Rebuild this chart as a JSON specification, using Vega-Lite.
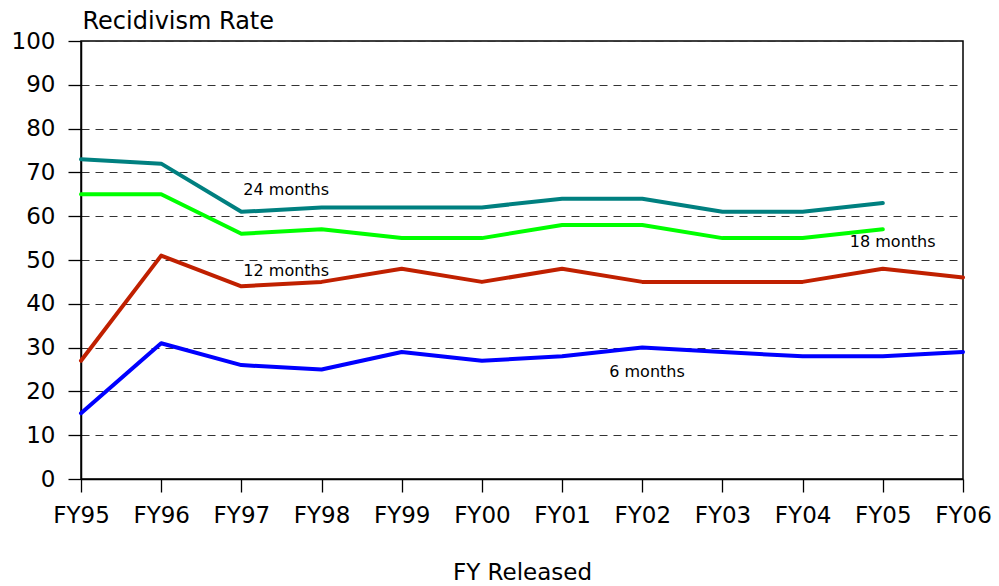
{
  "$schema": "https://vega.github.io/schema/vega-lite/v6.json",
  "autosize": "none",
  "width": 882,
  "height": 438,
  "padding": {"left": 81, "top": 41, "right": 36, "bottom": 107},
  "background": "white",
  "config": {
    "font": "DejaVu Sans",
    "view": {"stroke": "black", "strokeWidth": 1.5}
  },
  "datasets": {
    "rates": [
      {"fy": "FY95", "series": "24 months", "rate": 73},
      {"fy": "FY96", "series": "24 months", "rate": 72},
      {"fy": "FY97", "series": "24 months", "rate": 61},
      {"fy": "FY98", "series": "24 months", "rate": 62},
      {"fy": "FY99", "series": "24 months", "rate": 62},
      {"fy": "FY00", "series": "24 months", "rate": 62},
      {"fy": "FY01", "series": "24 months", "rate": 64},
      {"fy": "FY02", "series": "24 months", "rate": 64},
      {"fy": "FY03", "series": "24 months", "rate": 61},
      {"fy": "FY04", "series": "24 months", "rate": 61},
      {"fy": "FY05", "series": "24 months", "rate": 63},
      {"fy": "FY95", "series": "18 months", "rate": 65},
      {"fy": "FY96", "series": "18 months", "rate": 65},
      {"fy": "FY97", "series": "18 months", "rate": 56},
      {"fy": "FY98", "series": "18 months", "rate": 57},
      {"fy": "FY99", "series": "18 months", "rate": 55},
      {"fy": "FY00", "series": "18 months", "rate": 55},
      {"fy": "FY01", "series": "18 months", "rate": 58},
      {"fy": "FY02", "series": "18 months", "rate": 58},
      {"fy": "FY03", "series": "18 months", "rate": 55},
      {"fy": "FY04", "series": "18 months", "rate": 55},
      {"fy": "FY05", "series": "18 months", "rate": 57},
      {"fy": "FY95", "series": "12 months", "rate": 27},
      {"fy": "FY96", "series": "12 months", "rate": 51},
      {"fy": "FY97", "series": "12 months", "rate": 44},
      {"fy": "FY98", "series": "12 months", "rate": 45},
      {"fy": "FY99", "series": "12 months", "rate": 48},
      {"fy": "FY00", "series": "12 months", "rate": 45},
      {"fy": "FY01", "series": "12 months", "rate": 48},
      {"fy": "FY02", "series": "12 months", "rate": 45},
      {"fy": "FY03", "series": "12 months", "rate": 45},
      {"fy": "FY04", "series": "12 months", "rate": 45},
      {"fy": "FY05", "series": "12 months", "rate": 48},
      {"fy": "FY06", "series": "12 months", "rate": 46},
      {"fy": "FY95", "series": "6 months", "rate": 15},
      {"fy": "FY96", "series": "6 months", "rate": 31},
      {"fy": "FY97", "series": "6 months", "rate": 26},
      {"fy": "FY98", "series": "6 months", "rate": 25},
      {"fy": "FY99", "series": "6 months", "rate": 29},
      {"fy": "FY00", "series": "6 months", "rate": 27},
      {"fy": "FY01", "series": "6 months", "rate": 28},
      {"fy": "FY02", "series": "6 months", "rate": 30},
      {"fy": "FY03", "series": "6 months", "rate": 29},
      {"fy": "FY04", "series": "6 months", "rate": 28},
      {"fy": "FY05", "series": "6 months", "rate": 28},
      {"fy": "FY06", "series": "6 months", "rate": 29}
    ],
    "labels": [
      {"fy": "FY97", "label": "24 months", "rate": 66},
      {"fy": "FY97", "label": "12 months", "rate": 47.5},
      {"fy": "FY05", "label": "18 months", "rate": 54},
      {"fy": "FY02", "label": "6 months", "rate": 24.4}
    ]
  },
  "encoding": {
    "x": {
      "field": "fy", "type": "ordinal",
      "scale": {"type": "point", "padding": 0, "domain": ["FY95","FY96","FY97","FY98","FY99","FY00","FY01","FY02","FY03","FY04","FY05","FY06"]},
      "axis": {
        "title": "FY Released",
        "titleFont": "DejaVu Sans", "titleFontSize": 23, "titleFontWeight": "normal", "titleColor": "black",
        "titleY": 100, "titleBaseline": "alphabetic",
        "labelFont": "DejaVu Sans", "labelFontSize": 23, "labelColor": "black", "labelAngle": 0,
        "labelPadding": 12,
        "ticks": true, "tickSize": 13, "tickColor": "#000000", "tickWidth": 1.3,
        "domainColor": "black", "domainWidth": 1.5,
        "grid": false
      }
    },
    "y": {
      "field": "rate", "type": "quantitative",
      "scale": {"domain": [0, 100], "nice": false},
      "axis": {
        "title": "Recidivism Rate",
        "titleFont": "DejaVu Sans", "titleFontSize": 24, "titleFontWeight": "normal", "titleColor": "black",
        "titleAngle": 0, "titleAlign": "left", "titleBaseline": "alphabetic",
        "titleX": 1, "titleY": -13,
        "values": [0,10,20,30,40,50,60,70,80,90,100],
        "labelFont": "DejaVu Sans", "labelFontSize": 23, "labelColor": "black",
        "labelPadding": 13,
        "ticks": true, "tickSize": 13, "tickColor": "#000000", "tickWidth": 1.3,
        "domainColor": "black", "domainWidth": 1.5,
        "grid": true, "gridColor": "#333333", "gridDash": [8, 6], "gridWidth": 1
      }
    }
  },
  "layer": [
    {
      "data": {"name": "rates"},
      "mark": {"type": "line", "strokeWidth": 4, "strokeCap": "round", "strokeJoin": "round"},
      "encoding": {
        "color": {
          "field": "series", "type": "nominal",
          "scale": {"domain": ["24 months","18 months","12 months","6 months"], "range": ["#008080","#00FF00","#C02000","#0000FF"]},
          "legend": null
        }
      }
    },
    {
      "data": {"name": "labels"},
      "transform": [{"filter": "datum.fy === 'FY97'"}],
      "mark": {"type": "text", "align": "left", "baseline": "middle", "dx": 2, "fontSize": 16, "font": "DejaVu Sans", "color": "black"},
      "encoding": {
        "text": {"field": "label"}
      }
    },
    {
      "data": {"name": "labels"},
      "transform": [{"filter": "datum.fy !== 'FY97'"}],
      "mark": {"type": "text", "align": "left", "baseline": "middle", "dx": -33, "fontSize": 16, "font": "DejaVu Sans", "color": "black"},
      "encoding": {
        "text": {"field": "label"}
      }
    }
  ]
}
